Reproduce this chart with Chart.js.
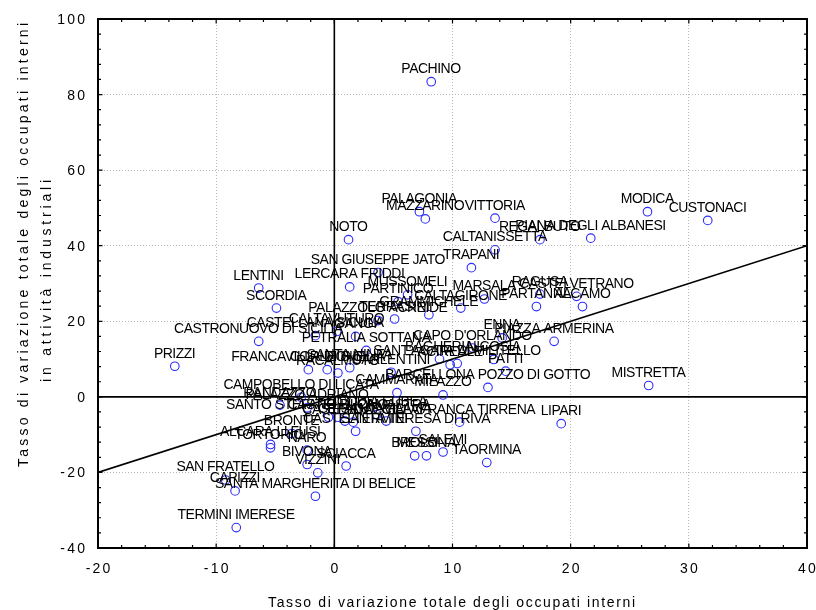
<!DOCTYPE html>
<html>
<head>
<meta charset="utf-8">
<script src="https://cdn.jsdelivr.net/npm/chart.js@4.4.0/dist/chart.umd.min.js"></script>
<style>
  html, body { margin: 0; padding: 0; background: #fff; }
  #wrap { width: 816px; height: 610px; }
</style>
</head>
<body>
<div id="wrap"><canvas id="c" width="816" height="610"></canvas></div>
<script>
// Comuni siciliani: variazione occupati interni totali (x) e nelle attività industriali (y)
const comuni = [
  "PACHINO", "PALAGONIA", "MAZZARINO", "VITTORIA", "MODICA", "CUSTONACI",
  "PIANA DEGLI ALBANESI", "REGALBUTO", "CALTANISSETTA", "NOTO", "TRAPANI",
  "SAN GIUSEPPE JATO", "LERCARA FRIDDI", "LENTINI", "SCORDIA", "MUSSOMELI",
  "PARTINICO", "RAGUSA", "CASTELVETRANO", "MARSALA", "PARTANNA", "ALCAMO",
  "CALTAGIRONE", "GRAMMICHELE", "TERRASINI", "PALAZZOLO ACREIDE", "CALTAVUTURO",
  "GANGI", "CASTRONUOVO DI SICILIA", "CASTELLANA SICULA", "PETRALIA SOTTANA",
  "ENNA", "PIAZZA ARMERINA",
  "CAPO D'ORLANDO", "PRIZZI", "FRANCAVILLA DI SICILIA", "CORLEONE", "RACALMUTO",
  "SANTA NINFA", "BAGHERIA", "NICOSIA", "SANT'AGATA DI MILITELLO", "ACIREALE",
  "PATTI", "CARLENTINI", "BARCELLONA POZZO DI GOTTO", "CAMMARATA", "MILAZZO",
  "MISTRETTA", "RANDAZZO", "CAMPOBELLO DI LICATA", "PALAZZO ADRIANO",
  "SANTO STEFANO DI CAMASTRA",
  "CASTELBUONO", "CEFALU'", "CASTELDACCIA", "CASTELTERMINI", "LICODIA EUBEA",
  "SANTA FLAVIA", "VILLAFRANCA TIRRENA", "LIPARI", "SANTA TERESA DI RIVA",
  "SALEMI", "BROLO", "MESSINA", "TAORMINA", "BRONTE", "ALCARA LI FUSI",
  "TORTORICI", "NARO", "BIVONA", "SCIACCA", "VIZZINI", "SAN FRATELLO",
  "CAPIZZI", "SANTA MARGHERITA DI BELICE", "TERMINI IMERESE"
];

// Tasso di variazione totale degli occupati interni
const varTotale = [
   8.2,  7.2,  7.7, 13.6, 26.5, 31.6,
  21.7, 17.4, 13.6,  1.2, 11.6,
   3.7,  1.3, -6.4, -4.9,  6.2,
   5.4, 17.4, 20.5, 12.7, 17.1, 21.0,
  10.7,  8.0,  5.1,  3.7,  0.2,
   1.8, -6.4, -1.6,  2.7,
  14.2, 18.6,
  11.7, -13.5, -2.2, -0.6,  0.3,
   1.3,  8.9, 13.5, 10.4,  9.8,
  14.5,  4.8, 13.0,  5.3,  9.2,
  26.6, -4.6, -2.8, -2.3,
  -0.5,
   0.3,  0.9,  1.6,  1.8,  3.6,
   4.4, 10.6, 19.2,  6.9,
   9.2,  6.8,  7.8, 12.9, -3.6, -5.4,
  -5.4, -2.3, -2.3,  1.0, -1.4, -9.2,
  -8.4, -1.6, -8.3
];

// Tasso di variazione degli occupati interni in attività industriali
const varIndustria = [
  83.4, 49.0, 47.1, 47.3, 49.0, 46.7,
  42.0, 41.6, 38.9, 41.6, 34.2,
  32.9, 29.1, 28.8, 23.5, 27.0,
  25.2, 27.2, 26.6, 25.9, 23.9, 23.9,
  23.5, 21.7, 20.6, 20.2, 17.3,
  16.0, 14.7, 16.2, 12.3,
  15.6, 14.7,
  12.9,  8.1,  7.2,  7.2,  6.3,
   7.7, 10.0,  9.9,  8.8,  8.5,
   6.8,  6.5,  2.5,  1.1,  0.5,
   3.0, -2.2, -0.1, -2.9,
  -5.4,
  -5.4, -6.4, -6.7, -9.1, -4.7,
  -6.4, -6.7, -7.1, -9.1,
 -14.6, -15.6, -15.6, -17.4, -9.7, -12.6,
 -13.5, -14.1, -17.9, -18.3, -20.1, -22.0,
 -24.9, -26.3, -34.6
];

// Retta di riferimento
const rettaX = [-20, 40];
const rettaY = [-20, 40];

const xTickValues = [-20, -10, 0, 10, 20, 30, 40];
const yTickValues = [-40, -20, 0, 20, 40, 60, 80, 100];

const xTitle = "Tasso di variazione totale degli occupati interni";
const yTitle = ["Tasso di variazione totale degli occupati interni", "in attività industriali"];

const FONT = '"Liberation Sans", Arial, sans-serif';

// draws text with a given letter spacing, aligned on its visible extent
function spacedText(ctx, text, x, y, spacing, align) {
  ctx.letterSpacing = spacing + 'px';
  const w = ctx.measureText(text).width - spacing;
  let left = x;
  if (align === 'center') left = x - w / 2;
  else if (align === 'right') left = x - w;
  ctx.textAlign = 'left';
  ctx.fillText(text, left, y);
  ctx.letterSpacing = '0px';
}

// stretches text over a target width
function fittedText(ctx, text, cx, y, width) {
  ctx.letterSpacing = '0px';
  const w0 = ctx.measureText(text).width;
  const sp = (width - w0) / (text.length - 1);
  spacedText(ctx, text, cx, y, sp, 'center');
}

const decorations = {
  id: 'decorations',
  beforeDatasetsDraw(chart) {
    const { ctx, chartArea: a, scales: { x, y } } = chart;
    ctx.save();
    ctx.strokeStyle = '#000';
    ctx.lineWidth = 1.6;
    const x0 = x.getPixelForValue(0);
    const y0 = y.getPixelForValue(0);
    ctx.beginPath();
    ctx.moveTo(x0, a.top); ctx.lineTo(x0, a.bottom);
    ctx.moveTo(a.left, y0); ctx.lineTo(a.right, y0);
    ctx.stroke();
    ctx.restore();
  },
  afterDatasetsDraw(chart) {
    const { ctx } = chart;
    const meta = chart.getDatasetMeta(0);
    ctx.save();
    ctx.fillStyle = '#000';
    ctx.font = '14px ' + FONT;
    ctx.textBaseline = 'alphabetic';
    meta.data.forEach((el, i) => {
      spacedText(ctx, comuni[i], el.x, el.y - 8.5, -0.5, 'center');
    });
    ctx.restore();
  },
  afterDraw(chart) {
    const { ctx, chartArea: a, scales: { x, y } } = chart;
    ctx.save();
    ctx.strokeStyle = '#000';
    // inward tick marks on all four sides
    ctx.lineWidth = 1.2;
    ctx.beginPath();
    for (let v = -20; v <= 40; v += 2) {
      const px = x.getPixelForValue(v);
      const len = (v % 10 === 0) ? 4.5 : 3;
      ctx.moveTo(px, a.top); ctx.lineTo(px, a.top + len);
      ctx.moveTo(px, a.bottom); ctx.lineTo(px, a.bottom - len);
    }
    for (let v = -40; v <= 100; v += 4) {
      const py = y.getPixelForValue(v);
      const len = (v % 20 === 0) ? 4.5 : 3;
      ctx.moveTo(a.left, py); ctx.lineTo(a.left + len, py);
      ctx.moveTo(a.right, py); ctx.lineTo(a.right - len, py);
    }
    ctx.stroke();
    // frame
    ctx.lineWidth = 2;
    ctx.strokeRect(a.left, a.top, a.right - a.left, a.bottom - a.top);

    // tick labels
    ctx.fillStyle = '#000';
    ctx.font = '14px ' + FONT;
    ctx.textBaseline = 'alphabetic';
    xTickValues.forEach(v => {
      spacedText(ctx, String(v), x.getPixelForValue(v), 573, 2.2, 'center');
    });
    yTickValues.forEach(v => {
      spacedText(ctx, String(v), 85, y.getPixelForValue(v) + 5, 2.2, 'right');
    });

    // axis titles
    ctx.font = '14px ' + FONT;
    fittedText(ctx, xTitle, 451.5, 607, 367);
    ctx.save();
    ctx.translate(28, 245);
    ctx.rotate(-Math.PI / 2);
    fittedText(ctx, yTitle[0], 0, 0, 444);
    ctx.restore();
    ctx.save();
    ctx.translate(51, 281);
    ctx.rotate(-Math.PI / 2);
    fittedText(ctx, yTitle[1], 0, 0, 202);
    ctx.restore();
    ctx.restore();
  }
};

const punti = varTotale.map((v, i) => ({ x: v, y: varIndustria[i] }));
const retta = rettaX.map((v, i) => ({ x: v, y: rettaY[i] }));

new Chart(document.getElementById('c'), {
  type: 'scatter',
  data: {
    datasets: [
      {
        label: 'Comuni',
        data: punti,
        pointStyle: 'circle',
        pointRadius: 4.3,
        pointHoverRadius: 4.3,
        borderWidth: 1.1,
        borderColor: '#2b2bff',
        backgroundColor: 'rgba(0,0,0,0)',
        order: 2
      },
      {
        type: 'line',
        label: 'Retta',
        data: retta,
        borderColor: '#000',
        borderWidth: 1.6,
        pointRadius: 0,
        fill: false,
        order: 1
      }
    ]
  },
  options: {
    responsive: false,
    animation: false,
    devicePixelRatio: 1,
    layout: { padding: { top: 19, right: 9, left: 0, bottom: 0 } },
    plugins: { legend: { display: false }, tooltip: { enabled: false } },
    events: [],
    scales: {
      x: {
        type: 'linear', min: -20, max: 40,
        ticks: { stepSize: 10, display: false },
        grid: { color: '#b8b8b8', lineWidth: 1, drawTicks: false },
        border: { display: false, dash: [1, 2] },
        afterFit(s) { s.height = 62; }
      },
      y: {
        type: 'linear', min: -40, max: 100,
        ticks: { stepSize: 20, display: false },
        grid: { color: '#b8b8b8', lineWidth: 1, drawTicks: false },
        border: { display: false, dash: [1, 2] },
        afterFit(s) { s.width = 98; }
      }
    }
  },
  plugins: [decorations]
});
</script>
</body>
</html>
